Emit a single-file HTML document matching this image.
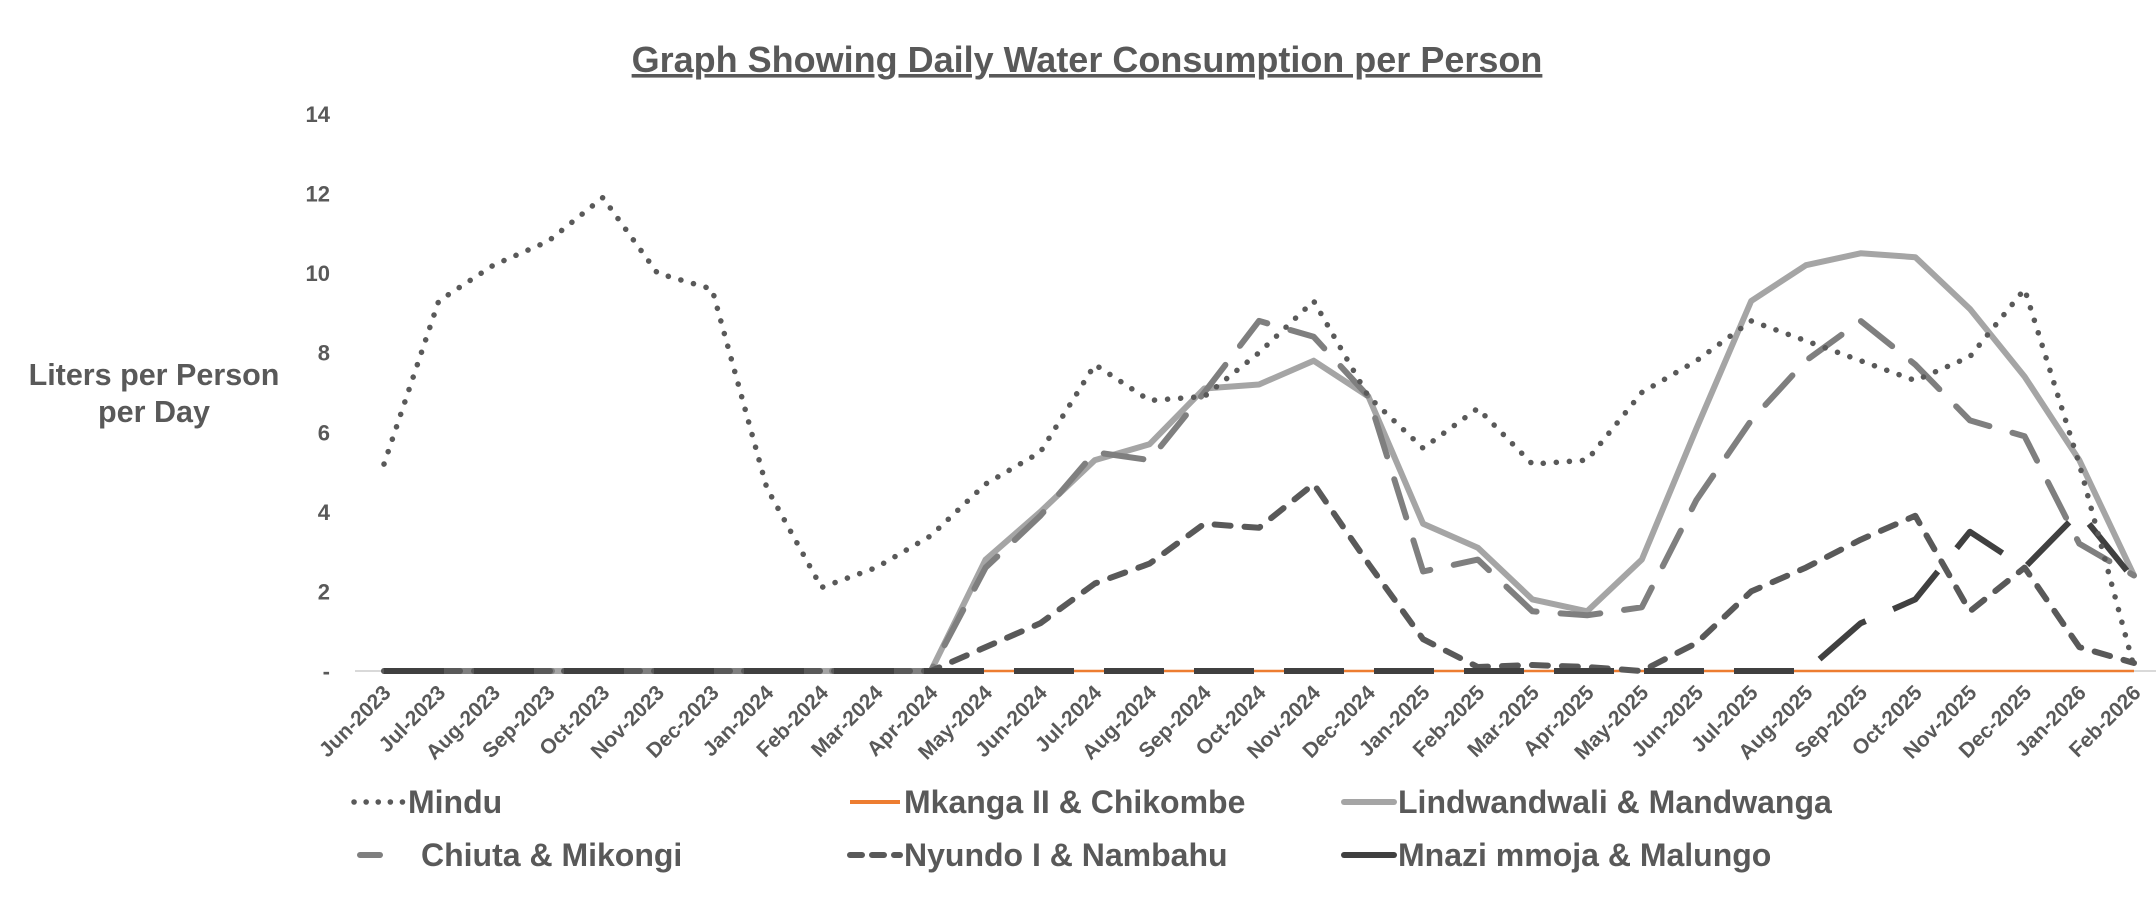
<!DOCTYPE html>
<html><head><meta charset="utf-8"><style>
html,body{margin:0;padding:0;background:#fff;}
svg{display:block;font-family:"Liberation Sans",Arial,sans-serif;font-weight:bold;}
</style></head><body>
<svg id="chart" width="2156" height="904" viewBox="0 0 2156 904">
<text x="1087" y="72" text-anchor="middle" font-size="36" fill="#595959" text-decoration="underline">Graph Showing Daily Water Consumption per Person</text>
<text x="154" y="385" text-anchor="middle" font-size="30.5" fill="#595959"><tspan x="154">Liters per Person</tspan><tspan x="154" dy="37">per Day</tspan></text>
<g id="yticks"></g><g id="xticks"></g><g id="series"></g><g id="legend"></g>
</svg>
<script>
const categories=["Jun-2023","Jul-2023","Aug-2023","Sep-2023","Oct-2023","Nov-2023","Dec-2023","Jan-2024","Feb-2024","Mar-2024","Apr-2024","May-2024","Jun-2024","Jul-2024","Aug-2024","Sep-2024","Oct-2024","Nov-2024","Dec-2024","Jan-2025","Feb-2025","Mar-2025","Apr-2025","May-2025","Jun-2025","Jul-2025","Aug-2025","Sep-2025","Oct-2025","Nov-2025","Dec-2025","Jan-2026","Feb-2026"];
const yTicks=[0,2,4,6,8,10,12,14];
const yTickLabels=["-","2","4","6","8","10","12","14"];
const mindu=[5.2,9.3,10.2,10.8,11.9,10.0,9.6,4.6,2.1,2.6,3.4,4.7,5.5,7.7,6.8,6.9,8.0,9.3,6.9,5.6,6.6,5.2,5.3,7.0,7.8,8.8,8.3,7.8,7.3,7.9,9.6,5.2,0.1];
const mkanga=[0,0,0,0,0,0,0,0,0,0,0,0,0,0,0,0,0,0,0,0,0,0,0,0,0,0,0,0,0,0,0,0,0];
const lindwandwali=[0,0,0,0,0,0,0,0,0,0,0,2.8,4.0,5.3,5.7,7.1,7.2,7.8,6.9,3.7,3.1,1.8,1.5,2.8,6.1,9.3,10.2,10.5,10.4,9.1,7.4,5.3,2.4];
const chiuta=[0,0,0,0,0,0,0,0,0,0,0,2.6,3.9,5.5,5.3,7.0,8.8,8.4,6.9,2.5,2.8,1.5,1.4,1.6,4.3,6.3,7.8,8.8,7.7,6.3,5.9,3.2,2.4];
const nyundo=[0,0,0,0,0,0,0,0,0,0,0,0.6,1.2,2.2,2.7,3.7,3.6,4.7,2.7,0.8,0.1,0.15,0.1,0,0.7,2.0,2.6,3.3,3.9,1.5,2.6,0.6,0.2];
const mnazi=[0,0,0,0,0,0,0,0,0,0,0,0,0,0,0,0,0,0,0,0,0,0,0,0,0,0,0,1.2,1.8,3.5,2.6,4.0,2.3];

const NS="http://www.w3.org/2000/svg";
const x0=384,x1=2134,yBase=671,yTop=114;
function xs(i){return x0+i*(x1-x0)/(categories.length-1);}
function ys(v){return yBase-v*(yBase-yTop)/14;}
function mk(tag,attrs,parent){const e=document.createElementNS(NS,tag);for(const k in attrs)e.setAttribute(k,attrs[k]);parent.appendChild(e);return e;}

const yt=document.getElementById('yticks');
yTicks.forEach((v,i)=>{
  const t=mk('text',{x:330,y:ys(v)+8,'text-anchor':'end','font-size':22,fill:'#595959'},yt);
  
  
  t.textContent=yTickLabels[i];
});
const axis=mk('line',{x1:355,x2:2156,y1:yBase,y2:yBase,stroke:'#d9d9d9','stroke-width':2},yt);



const xt=document.getElementById('xticks');
categories.forEach((c,i)=>{
  const x=xs(i)+8,y=694;
  const t=mk('text',{x:x,y:y,'text-anchor':'end','font-size':21,fill:'#595959',transform:`rotate(-45 ${x} ${y})`},xt);
  
  
  t.textContent=c;
});

const series=[
 {name:'Mkanga II & Chikombe',data:mkanga,stroke:'#ed7d31',w:2.5,dash:'',cap:'butt',id:'mkanga'},
 {name:'Lindwandwali & Mandwanga',data:lindwandwali,stroke:'#a5a5a5',w:6,dash:'',cap:'butt',id:'lindwandwali'},
 {name:'Chiuta & Mikongi',data:chiuta,stroke:'#7f7f7f',w:6,dash:'40 24',cap:'round',id:'chiuta'},
 {name:'Nyundo I & Nambahu',data:nyundo,stroke:'#595959',w:6,dash:'16 14',cap:'round',id:'nyundo'},
 {name:'Mnazi mmoja & Malungo',data:mnazi,stroke:'#404040',w:6,dash:'60 30',cap:'butt',id:'mnazi'},
 {name:'Mindu',data:mindu,stroke:'#595959',w:5.5,dash:'0.1 13',cap:'round',id:'mindu'}
];
const sg=document.getElementById('series');
series.forEach(s=>{
  const d=s.data.map((v,i)=>(i?'L':'M')+xs(i).toFixed(1)+' '+ys(v).toFixed(1)).join(' ');
  const p=mk('path',{d:d,fill:'none',stroke:s.stroke,'stroke-width':s.w,'stroke-dasharray':s.dash,'stroke-linecap':s.cap,'stroke-linejoin':'round'},sg);
  
  
});

const lg=document.getElementById('legend');
const legendItems=[
 {s:series[5],x:350,y:813},{s:series[0],x:846,y:813},{s:series[1],x:1340,y:813},
 {s:series[2],x:350,y:866},{s:series[3],x:846,y:866},{s:series[4],x:1340,y:866}];
legendItems.forEach(it=>{
  const g=mk('g',{},lg);
  
  
  let x1=it.x+4,x2=it.x+54,dash='',cap='round',w=it.s.w;
  if(it.s.id==='mkanga'){cap='butt';w=4;}
  if(it.s.id==='chiuta'){x1=it.x+10;x2=it.x+30;}
  if(it.s.id==='mindu'){dash='0.1 12';}
  if(it.s.id==='nyundo'){dash='12 10';}
  mk('line',{x1:x1,x2:x2,y1:it.y-11,y2:it.y-11,stroke:it.s.stroke,'stroke-width':w,'stroke-dasharray':dash,'stroke-linecap':cap},g);
  const t=mk('text',{x:it.s.id==='chiuta'?it.x+60+11:it.x+58,y:it.y,'font-size':32,fill:'#595959'},g);
  t.textContent=it.s.name;
});
</script>
</body></html>
